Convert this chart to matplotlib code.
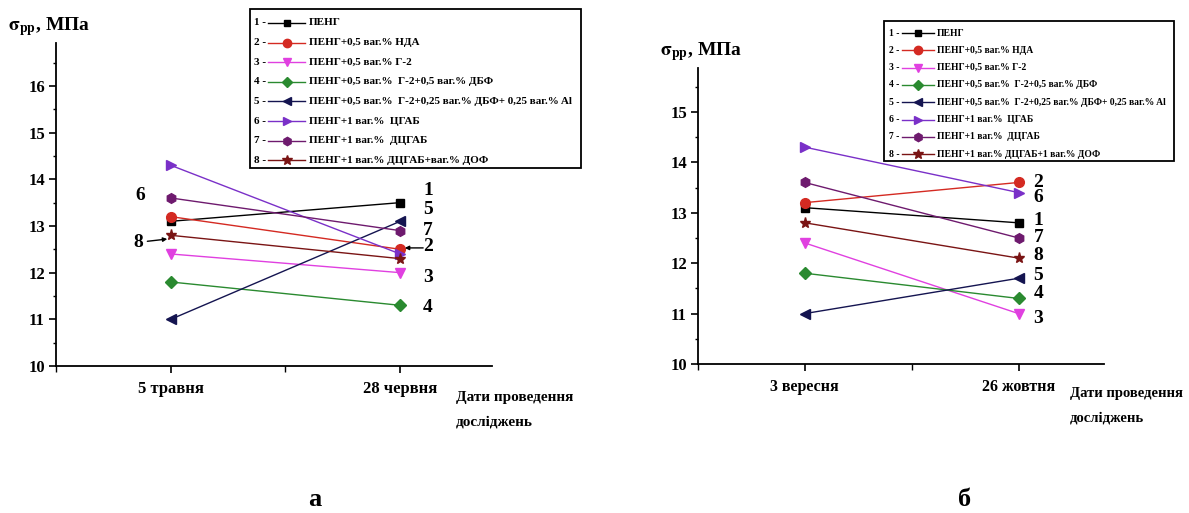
import matplotlib
matplotlib.use("Agg")
import matplotlib.pyplot as plt
from matplotlib.lines import Line2D
from matplotlib.patches import Rectangle
from matplotlib.ticker import MultipleLocator

plt.rcParams['font.family'] = ['Liberation Serif', 'DejaVu Serif']
plt.rcParams['font.weight'] = 'bold'
plt.rcParams['mathtext.fontset'] = 'stix'

W, H = 1189, 513

# data
series_ids = ['1', '2', '3', '4', '5', '6', '7', '8']
dates_a = ['5 травня', '28 червня']
dates_b = ['3 вересня', '26 жовтня']
may_a = [13.1, 13.2, 12.4, 11.8, 11.0, 14.3, 13.6, 12.8]
june_a = [13.5, 12.5, 12.0, 11.3, 13.1, 12.4, 12.9, 12.3]
sept_b = [13.1, 13.2, 12.4, 11.8, 11.0, 14.3, 13.6, 12.8]
oct_b = [12.8, 13.6, 11.0, 11.3, 11.7, 13.4, 12.5, 12.1]

legend_a = ['ПЕНГ',
            'ПЕНГ+0,5 ваг.% НДА',
            'ПЕНГ+0,5 ваг.% Г-2',
            'ПЕНГ+0,5 ваг.%  Г-2+0,5 ваг.% ДБФ',
            'ПЕНГ+0,5 ваг.%  Г-2+0,25 ваг.% ДБФ+ 0,25 ваг.% Al',
            'ПЕНГ+1 ваг.%  ЦГАБ',
            'ПЕНГ+1 ваг.%  ДЦГАБ',
            'ПЕНГ+1 ваг.% ДЦГАБ+ваг.% ДОФ']
legend_b = legend_a[:7] + ['ПЕНГ+1 ваг.% ДЦГАБ+1 ваг.% ДОФ']

# styles
colors = ['#000000', '#d42a22', '#e040e0', '#2a8a30', '#141450',
          '#7a30c8', '#6e1a6e', '#7a1414']
markers = ['s', 'o', 'v', 'D', '<', '>', 'h', '*']
msizes = [6, 7, 7, 6, 7, 7, 7, 8]

# end-label heights (text positions near second date)
end_label_a = {'1': 13.75, '5': 13.35, '7': 12.9, '2': 12.55, '3': 11.9, '4': 11.25}
end_label_b = {'2': 13.6, '6': 13.3, '1': 12.85, '7': 12.5, '8': 12.15,
               '5': 11.75, '4': 11.4, '3': 10.9}


def fx(px):
    return px / W


def fy(py):
    return 1 - py / H


fig = plt.figure(figsize=(W / 100, H / 100), dpi=100)


def draw_panel(rect, dates, first, second, ytop, yticks, end_labels, lab_x, xfs):
    ax = fig.add_axes(rect)
    for i in range(len(series_ids)):
        ax.plot([1, 2], [first[i], second[i]], color=colors[i], lw=1.0,
                marker=markers[i], ms=msizes[i], mec=colors[i], mfc=colors[i],
                clip_on=False, zorder=3)
    ax.set_xlim(0.5, 2.4)
    ax.set_ylim(10, ytop)
    ax.set_xticks([1, 2])
    ax.set_xticklabels(dates)
    ax.xaxis.set_minor_locator(MultipleLocator(0.5))
    ax.set_yticks(yticks)
    ax.yaxis.set_minor_locator(MultipleLocator(0.5))
    for s in ['top', 'right']:
        ax.spines[s].set_visible(False)
    for s in ['left', 'bottom']:
        ax.spines[s].set_linewidth(1.3)
    ax.tick_params(which='major', direction='out', length=5, width=1.2,
                   labelsize=12, pad=3)
    ax.tick_params(which='minor', direction='out', length=2.5, width=1.0)
    ax.tick_params(axis='x', which='minor', length=4)
    ax.tick_params(axis='x', which='major', labelsize=xfs, pad=6)
    for k, yv in end_labels.items():
        ax.text(lab_x, yv, k, fontsize=14, ha='left', va='center')
    return ax


ax_a = draw_panel([fx(56), fy(366), fx(492) - fx(56), fy(43) - fy(366)],
                  dates_a, may_a, june_a, 16.92, range(10, 17), end_label_a, 2.1, 12)
ax_b = draw_panel([fx(698), fy(364), fx(1104) - fx(698), fy(68) - fy(364)],
                  dates_b, sept_b, oct_b, 15.87, range(10, 16), end_label_b, 2.07, 11.5)

# side labels on panel a
ax_a.text(0.89, 13.65, '6', fontsize=14, ha='right', va='center')
ax_a.annotate('8', xy=(0.985, 12.72), xytext=(0.88, 12.65), fontsize=14,
              ha='right', va='center',
              arrowprops=dict(arrowstyle='-|>', color='black', lw=1.0,
                              mutation_scale=6, shrinkA=1, shrinkB=0))
ax_a.annotate('', xy=(2.02, 12.53), xytext=(2.1, 12.53),
              arrowprops=dict(arrowstyle='-|>', color='black', lw=1.0,
                              mutation_scale=6, shrinkA=0, shrinkB=0))


def draw_legend(box, row0, dy, xnum, xl0, xl1, xtext, labels, fsize):
    x0, y0, x1, y1 = box
    fig.add_artist(Rectangle((fx(x0), fy(y1)), fx(x1) - fx(x0), fy(y0) - fy(y1),
                             transform=fig.transFigure, fill=False,
                             edgecolor='black', lw=1.3))
    for i, lab in enumerate(labels):
        yy = fy(row0 + i * dy)
        fig.text(fx(xnum), yy, series_ids[i] + ' -', fontsize=fsize,
                 ha='left', va='center')
        fig.add_artist(Line2D([fx(xl0), fx(xl1)], [yy, yy], color=colors[i],
                              lw=1.0, transform=fig.transFigure))
        fig.add_artist(Line2D([fx((xl0 + xl1) / 2)], [yy], color=colors[i],
                              marker=markers[i], ms=msizes[i] - 1,
                              transform=fig.transFigure))
        fig.text(fx(xtext), yy, lab, fontsize=fsize, ha='left', va='center')


draw_legend((250, 9, 581, 168), 23, 19.6, 254, 268, 305, 309, legend_a, 8)
draw_legend((884, 21, 1174, 161), 33, 17.3, 889, 902, 934, 937, legend_b, 6.9)

# axis titles
fig.text(fx(8), fy(27), r'$\mathrm{\sigma}_{\mathrm{pp}}$, МПа', fontsize=14,
         ha='left', va='center')
fig.text(fx(660), fy(52), r'$\mathrm{\sigma}_{\mathrm{pp}}$, МПа', fontsize=14,
         ha='left', va='center')
for xpx, y1, y2, fs in [(456, 397, 422, 11), (1070, 393, 418, 10.5)]:
    fig.text(fx(xpx), fy(y1), 'Дати проведення', fontsize=fs, ha='left', va='center')
    fig.text(fx(xpx), fy(y2), 'досліджень', fontsize=fs, ha='left', va='center')

fig.text(fx(315), fy(500), 'а', fontsize=19, ha='center', va='center')
fig.text(fx(965), fy(500), 'б', fontsize=19, ha='center', va='center')

fig.savefig('out.png', dpi=100)
